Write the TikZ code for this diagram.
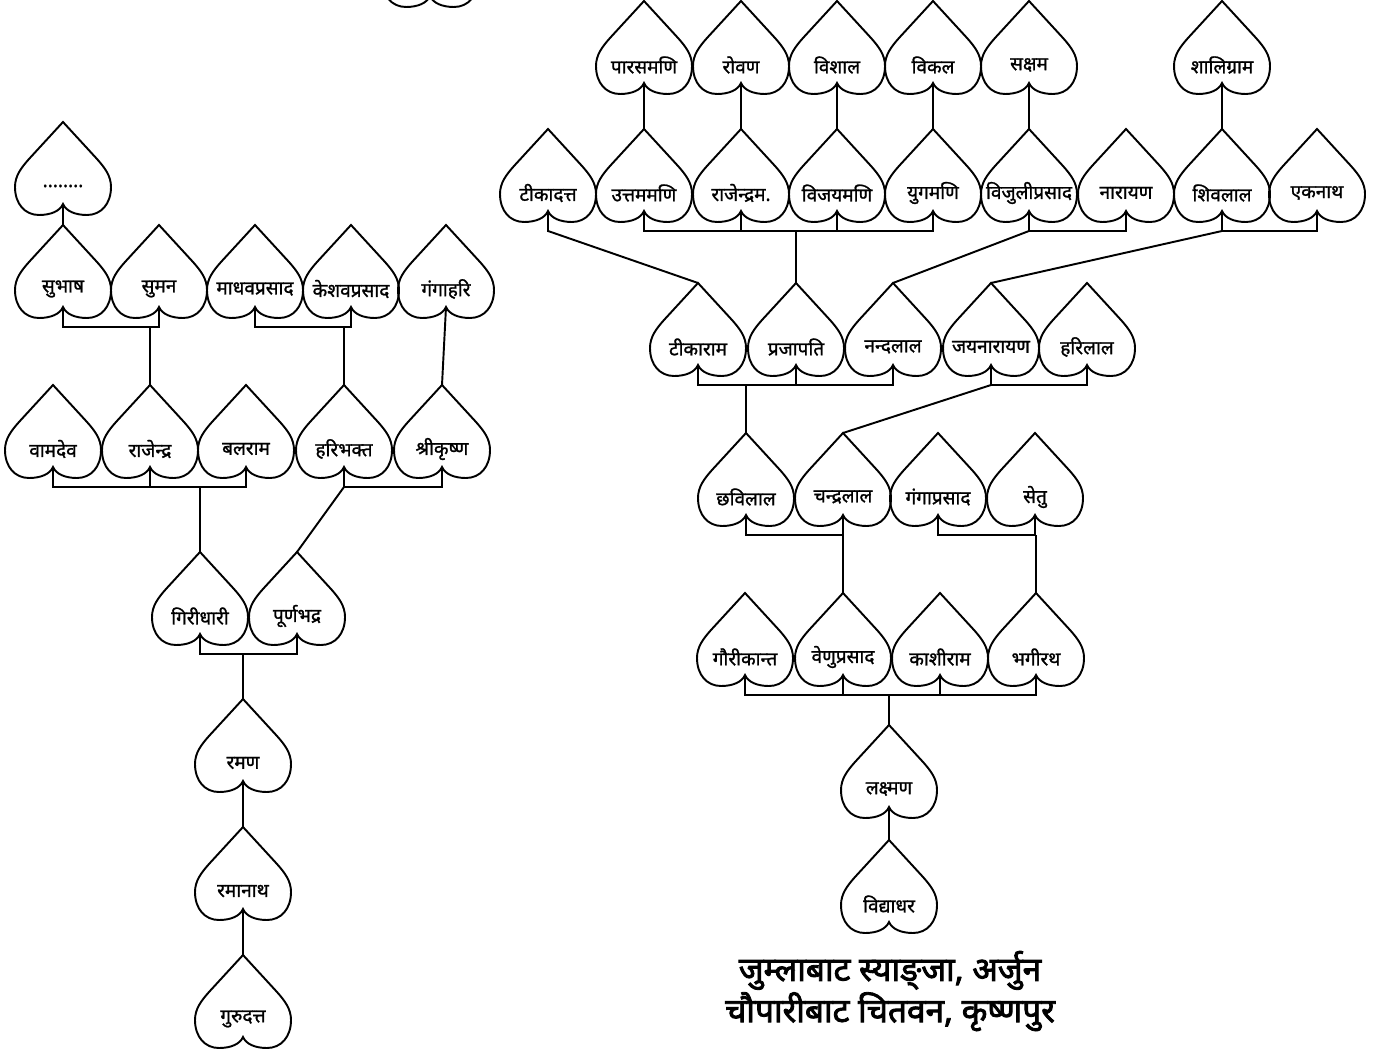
\documentclass[tikz,border=0pt]{standalone}
\usepackage{fontspec}
\setmainfont{Noto Sans}[Script=Devanagari]
\newfontfamily\leaffont{Noto Sans}[Script=Devanagari, FakeBold=1.2]
\newfontfamily\placefont{Noto Sans}[Script=Devanagari, FakeBold=2.5]
\usepackage{tikz}
\usetikzlibrary{calc}

\tikzset{
  link/.style={line width=1.1pt, black},
  leaftext/.style={font=\leaffont\fontsize{10.8}{12}\selectfont, inner sep=0pt},
  leaf/.pic={
    \draw[link] (0,0) -- (34,37) .. controls (42,46) and (48,54) .. (48,65)
      .. controls (48,82) and (38,93) .. (24,93)
      .. controls (12,93) and (3,89) .. (0,82)
      .. controls (-3,89) and (-12,93) .. (-24,93)
      .. controls (-38,93) and (-48,82) .. (-48,65)
      .. controls (-48,54) and (-42,46) .. (-34,37) -- cycle;
    \node[leaftext] (-t) at (0,64) {#1};
    \coordinate (-top) at (0,0);
    \coordinate (-bot) at (0,82);
  }
}

\begin{document}
\begin{tikzpicture}[x=0.02cm, y=-0.02cm]
        \useasboundingbox (0,0) rectangle (1388,1050);
        % left tree
        \pic (cut) at (430,-86) {leaf={}};
        \pic (dots) at (63,122) {leaf=........};
        \pic (subhash) at (63,225) {leaf=सुभाष};
        \pic (suman) at (159,225) {leaf=सुमन};
        \pic (madhav) at (255,225) {leaf=माधवप्रसाद};
        \pic (keshav) at (351,225) {leaf=केशवप्रसाद};
        \pic (gangahari) at (446,225) {leaf=गंगाहरि};
        \pic (vamdev) at (53,385) {leaf=वामदेव};
        \pic (rajendra) at (150,385) {leaf=राजेन्द्र};
        \pic (balram) at (246,385) {leaf=बलराम};
        \pic (haribhakta) at (344,385) {leaf=हरिभक्त};
        \pic (shrikrishna) at (442,385) {leaf=श्रीकृष्ण};
        \pic (giridhari) at (200,552) {leaf=गिरीधारी};
        \pic (purna) at (297,552) {leaf=पूर्णभद्र};
        \pic (raman) at (243,699) {leaf=रमण};
        \pic (ramanath) at (243,827) {leaf=रमानाथ};
        \pic (gurudatta) at (243,955) {leaf=गुरुदत्त};
        % left links
        \draw[link] (dots-bot) -- (subhash-top);
        \draw[link] (subhash-bot) -- ++(0,20) coordinate (l1) -| (suman-bot);
        \draw[link] (rajendra-top) -- (rajendra-top |- l1);
        \draw[link] (madhav-bot) -- ++(0,20) coordinate (l2) -| (keshav-bot);
        \draw[link] (haribhakta-top) -- (haribhakta-top |- l2);
        \draw[link] (gangahari-bot) -- (shrikrishna-top);
        \draw[link] (vamdev-bot) -- ++(0,20) coordinate (l3) -| (balram-bot);
        \draw[link] (rajendra-bot) -- (rajendra-bot |- l3);
        \draw[link] (giridhari-top) -- (giridhari-top |- l3);
        \draw[link] (haribhakta-bot) -- ++(0,20) coordinate (l4) -| (shrikrishna-bot);
        \draw[link] (l4) -- (purna-top);
        \draw[link] (giridhari-bot) -- ++(0,20) coordinate (l5) -| (purna-bot);
        \draw[link] (raman-top) -- (raman-top |- l5);
        \draw[link] (raman-bot) -- (ramanath-top);
        \draw[link] (ramanath-bot) -- (gurudatta-top);
        % right tree
        \pic (paras) at (644,1) {leaf=पारसमणि};
        \pic (rovan) at (741,1) {leaf=रोवण};
        \pic (vishal) at (837,1) {leaf=विशाल};
        \pic (vikal) at (933,1) {leaf=विकल};
        \pic (saksham) at (1029,1) {leaf=सक्षम};
        \pic (shaligram) at (1222,1) {leaf=शालिग्राम};
        \pic (tikadatta) at (548,129) {leaf=टीकादत्त};
        \pic (uttam) at (644,129) {leaf=उत्तममणि};
        \pic (rajendram) at (741,129) {leaf=राजेन्द्रम.};
        \pic (vijay) at (837,129) {leaf=विजयमणि};
        \pic (yugam) at (933,129) {leaf=युगमणि};
        \pic (vijuli) at (1029,129) {leaf=विजुलीप्रसाद};
        \pic (narayan) at (1126,129) {leaf=नारायण};
        \pic (shivlal) at (1222,129) {leaf=शिवलाल};
        \pic (eknath) at (1317,129) {leaf=एकनाथ};
        \pic (tikaram) at (698,283) {leaf=टीकाराम};
        \pic (prajapati) at (796,283) {leaf=प्रजापति};
        \pic (nandalal) at (893,283) {leaf=नन्दलाल};
        \pic (jaynarayan) at (991,283) {leaf=जयनारायण};
        \pic (harilal) at (1087,283) {leaf=हरिलाल};
        \pic (chhabilal) at (746,433) {leaf=छविलाल};
        \pic (chandralal) at (843,433) {leaf=चन्द्रलाल};
        \pic (gangaprasad) at (938,433) {leaf=गंगाप्रसाद};
        \pic (setu) at (1035,433) {leaf=सेतु};
        \pic (gaurikanta) at (745,593) {leaf=गौरीकान्त};
        \pic (venu) at (843,593) {leaf=वेणुप्रसाद};
        \pic (kashiram) at (940,593) {leaf=काशीराम};
        \pic (bhagirath) at (1036,593) {leaf=भगीरथ};
        \pic (laxman) at (889,725) {leaf=लक्ष्मण};
        \pic (vidyadhar) at (889,840) {leaf=विद्याधर};
        % right links
        \draw[link] (paras-bot) -- (uttam-top);
        \draw[link] (rovan-bot) -- (rajendram-top);
        \draw[link] (vishal-bot) -- (vijay-top);
        \draw[link] (vikal-bot) -- (yugam-top);
        \draw[link] (saksham-bot) -- (vijuli-top);
        \draw[link] (shaligram-bot) -- (shivlal-top);
        \draw[link] (tikadatta-bot) -- ++(0,20) -- (tikaram-top);
        \draw[link] (uttam-bot) -- ++(0,20) coordinate (r1) -| (yugam-bot);
        \draw[link] (rajendram-bot) -- (rajendram-bot |- r1);
        \draw[link] (vijay-bot) -- (vijay-bot |- r1);
        \draw[link] (prajapati-top) -- (prajapati-top |- r1);
        \draw[link] (vijuli-bot) -- ++(0,20) coordinate (r2) -| (narayan-bot);
        \draw[link] (r2) -- (nandalal-top);
        \draw[link] (shivlal-bot) -- ++(0,20) coordinate (r3) -| (eknath-bot);
        \draw[link] (r3) -- (jaynarayan-top);
        \draw[link] (tikaram-bot) -- ++(0,20) coordinate (r4) -| (nandalal-bot);
        \draw[link] (prajapati-bot) -- (prajapati-bot |- r4);
        \draw[link] (chhabilal-top) -- (chhabilal-top |- r4);
        \draw[link] (jaynarayan-bot) -- ++(0,20) coordinate (r5) -| (harilal-bot);
        \draw[link] (r5) -- (chandralal-top);
        \draw[link] (chhabilal-bot) -- ++(0,20) coordinate (r6) -| (chandralal-bot);
        \draw[link] (venu-top) -- (venu-top |- r6);
        \draw[link] (gangaprasad-bot) -- ++(0,20) coordinate (r7) -| (setu-bot);
        \draw[link] (bhagirath-top) -- (bhagirath-top |- r7);
        \draw[link] (gaurikanta-bot) -- ++(0,20) coordinate (r8) -| (bhagirath-bot);
        \draw[link] (venu-bot) -- (venu-bot |- r8);
        \draw[link] (kashiram-bot) -- (kashiram-bot |- r8);
        \draw[link] (laxman-top) -- (laxman-top |- r8);
        \draw[link] (laxman-bot) -- (vidyadhar-top);
        % place
        \node[font=\placefont\fontsize{19}{23.5}\selectfont, align=center] (place) at (890,991)
          {जुम्लाबाट स्याङ्जा, अर्जुन\\चौपारीबाट चितवन, कृष्णपुर};
      \end{tikzpicture}
\end{document}
